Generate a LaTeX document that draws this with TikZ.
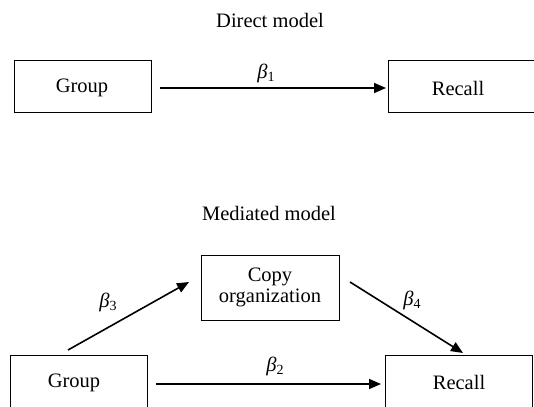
\documentclass[tikz,border=0pt]{standalone}
\usepackage{fontspec}
\setmainfont{Liberation Serif}
\usetikzlibrary{arrows.meta}
\newcommand{\bet}[1]{\textit{β}\raisebox{-0.4ex}{\fontsize{14}{14}\selectfont #1}}
\begin{document}
\begin{tikzpicture}[x=1pt,y=-1pt,
  box/.style={draw,line width=1pt,inner sep=0pt,align=center,font=\fontsize{20.5}{22}\selectfont},
  lbl/.style={font=\fontsize{20.5}{24}\selectfont,inner sep=0pt},
  conn/.style={line width=1.6pt,-{Triangle[length=12pt,width=10pt]}}]
\useasboundingbox (0,0) rectangle (534,406);
\clip (0,0) rectangle (534,406);
% direct model
\node[lbl] (t1) at (270,20) {Direct model};
\node[box,minimum width=137pt,minimum height=52pt] (g1) at (82.5,86.5) {};
\node[lbl] (g1t) at (82,88) {Group};
\node[box,minimum width=156pt,minimum height=52pt] (r1) at (466,87) {};
\node[lbl] (r1t) at (458,88) {Recall};
\coordinate (a1) at (160,88);
\coordinate (b1) at (386,88);
\draw[conn] (a1) -- (b1);
\node[lbl] (b1l) at (266,73) {\bet{1}};
% mediated model
\node[lbl] (t2) at (269,213) {Mediated model};
\node[box,minimum width=138pt,minimum height=65pt] (c) at (270,287.5) {Copy\\[-1pt]organization};
\node[box,minimum width=137pt,minimum height=62pt] (g2) at (78.5,386) {};
\node[lbl] (g2t) at (74,383) {Group};
\node[box,minimum width=147pt,minimum height=62pt] (r2) at (458.5,386) {};
\node[lbl] (r2t) at (459,382) {Recall};
\coordinate (s2) at (156,384);
\coordinate (e2) at (381,384);
\draw[conn] (s2) -- (e2);
\coordinate (s3) at (68,350);
\coordinate (e3) at (189,282);
\draw[conn] (s3) -- (e3);
\coordinate (s4) at (350,282);
\coordinate (e4) at (463,353);
\draw[conn] (s4) -- (e4);
\node[lbl] (b2l) at (275,366) {\bet{2}};
\node[lbl] (b3l) at (108,302) {\bet{3}};
\node[lbl] (b4l) at (412,300) {\bet{4}};
\end{tikzpicture}
\end{document}
